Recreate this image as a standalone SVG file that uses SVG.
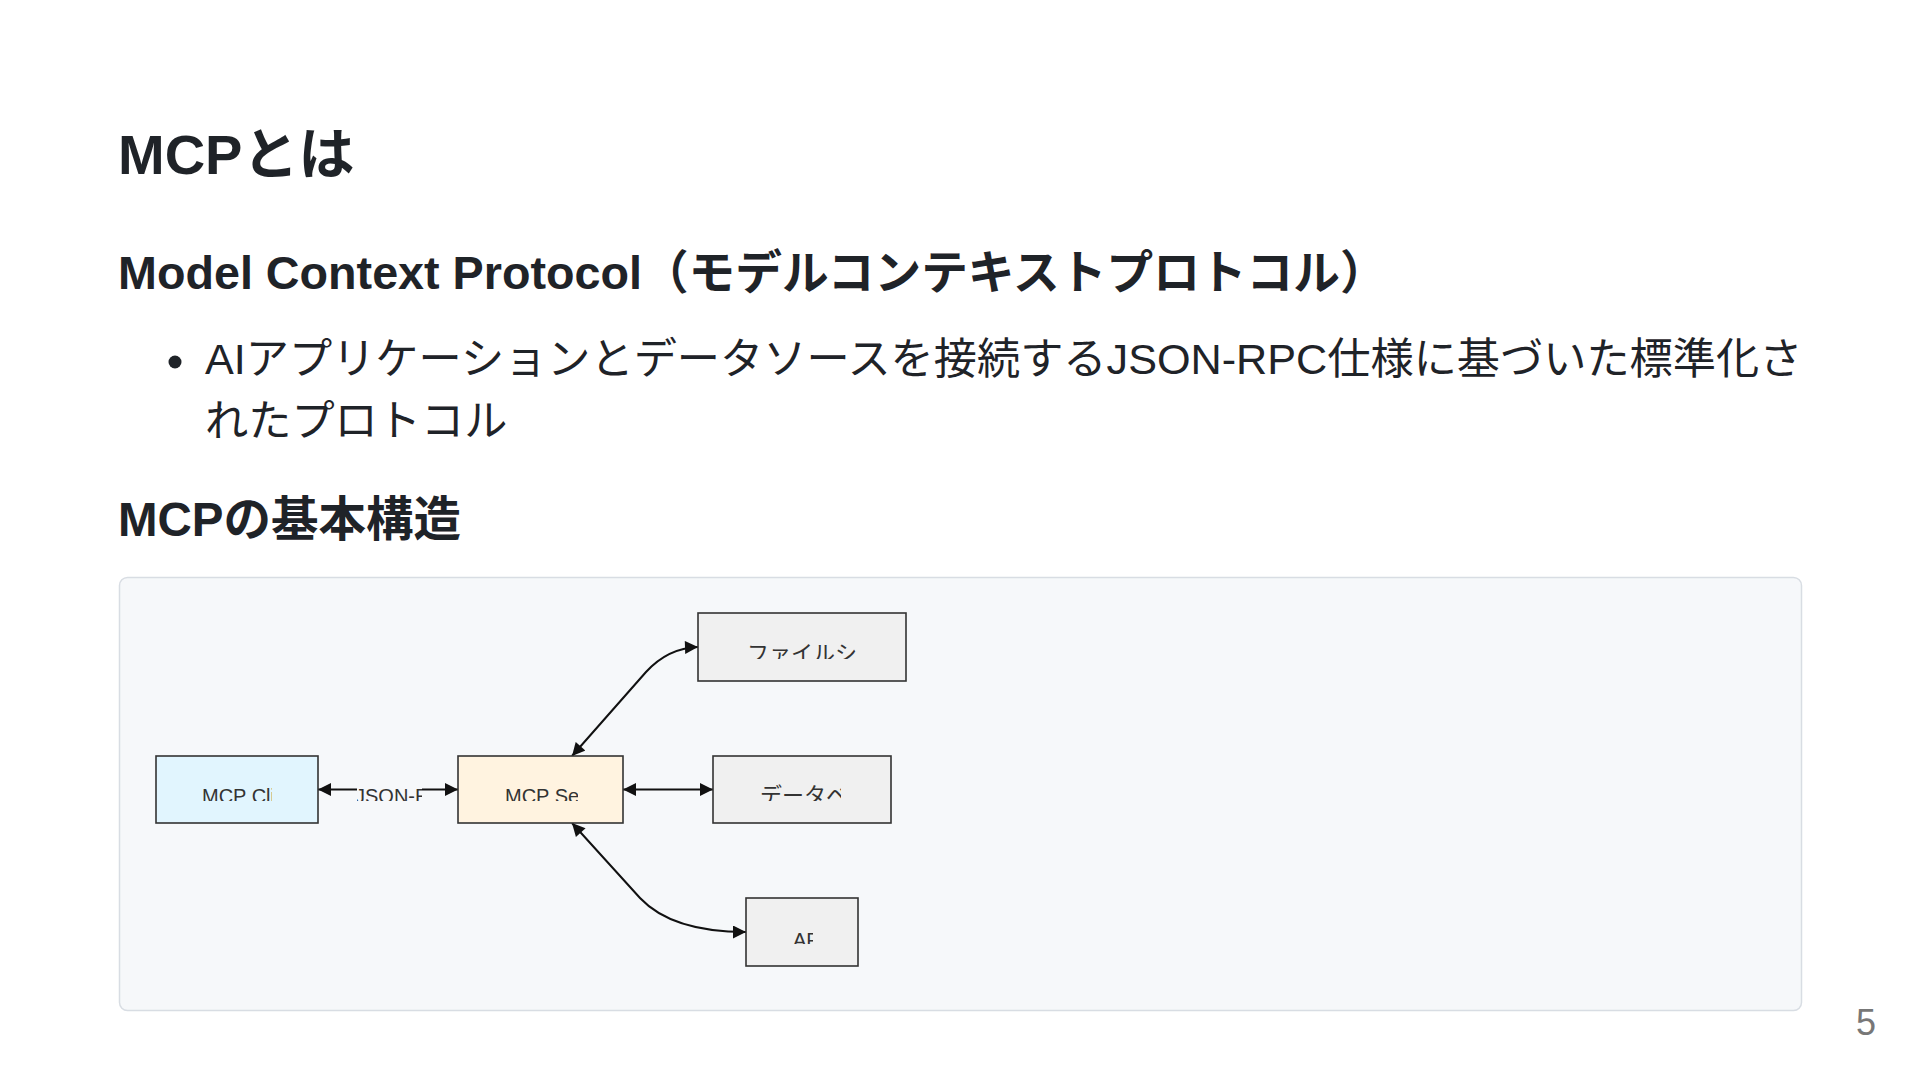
<svg xmlns="http://www.w3.org/2000/svg" width="1920" height="1080" viewBox="0 0 1920 1080">
<style>
.h{font-family:"Liberation Sans","Noto Sans CJK JP",sans-serif;font-weight:bold;fill:#1f2328}
.b{font-family:"Liberation Sans","Noto Sans CJK JP",sans-serif;fill:#1f2328}
.node rect.box{stroke:#333;stroke-width:1.6}
.lt{font-family:"Liberation Sans","Noto Sans CJK JP",sans-serif;font-size:20px;fill:#333}
.jt{font-family:"Noto Sans CJK JP","Liberation Sans",sans-serif;font-size:22px;fill:#333}
.edge{fill:none;stroke:#111;stroke-width:2}
</style>
<defs>
<marker id="arr" viewBox="0 0 10 10" refX="10" refY="5" markerWidth="14" markerHeight="13" markerUnits="userSpaceOnUse" orient="auto-start-reverse"><path d="M0,0 L10,5 L0,10 z" fill="#111"/></marker>
<clipPath id="cClient"><rect x="202" y="770" width="70" height="31"/></clipPath>
<clipPath id="cServer"><rect x="505" y="770" width="73" height="31"/></clipPath>
<clipPath id="cFs"><rect x="747" y="628" width="111" height="31"/></clipPath>
<clipPath id="cDb"><rect x="760" y="770" width="81" height="31"/></clipPath>
<clipPath id="cApi"><rect x="793" y="913" width="20" height="31"/></clipPath>
<clipPath id="cLbl"><rect x="357" y="770" width="65" height="31"/></clipPath>
</defs>
<rect width="1920" height="1080" fill="#ffffff"/>
<text class="h" x="118" y="174" font-size="56">MCPとは</text>
<text class="h" x="118" y="289" font-size="46.7">Model Context Protocol（モデルコンテキストプロトコル）</text>
<circle cx="175" cy="362" r="6.5" fill="#1f2328"/>
<text class="b" x="205" y="374" font-size="43.2">AIアプリケーションとデータソースを接続するJSON-RPC仕様に基づいた標準化さ</text>
<text class="b" x="205" y="436" font-size="43.2">れたプロトコル</text>
<text class="h" x="118" y="536" font-size="47.5">MCPの基本構造</text>
<rect x="119.5" y="577.5" width="1682" height="433" rx="8" fill="#f6f8fa" stroke="#d8dde3" stroke-width="1.5"/>
<g id="connectors">
<path class="edge" d="M318,789.5 L458,789.5" marker-start="url(#arr)" marker-end="url(#arr)"/>
<path class="edge" d="M623,789.5 L713,789.5" marker-start="url(#arr)" marker-end="url(#arr)"/>
<path class="edge" d="M572,756 L646,672 Q668,648 698,647" marker-start="url(#arr)" marker-end="url(#arr)"/>
<path class="edge" d="M572,823 L640,898 Q672,932 746,932" marker-start="url(#arr)" marker-end="url(#arr)"/>
<g id="edge-label">
<rect x="357" y="778" width="65" height="23" fill="#f6f8fa"/>
<text class="lt" x="355" y="803" clip-path="url(#cLbl)">JSON-RPC</text>
</g>
</g>
<g id="client" class="node">
<rect class="box" x="156" y="756" width="162" height="67" fill="#e1f5fe"/>
<text class="lt" x="202" y="803" clip-path="url(#cClient)">MCP Client</text>
</g>
<g id="server" class="node">
<rect class="box" x="458" y="756" width="165" height="67" fill="#fff3e0"/>
<text class="lt" x="505" y="803" clip-path="url(#cServer)">MCP Server</text>
</g>
<g id="filesystem" class="node">
<rect class="box" x="698" y="613" width="208" height="68" fill="#f0f0f0"/>
<text class="jt" x="747" y="661" clip-path="url(#cFs)">ファイルシステム</text>
</g>
<g id="database" class="node">
<rect class="box" x="713" y="756" width="178" height="67" fill="#f0f0f0"/>
<text class="jt" x="760" y="803" clip-path="url(#cDb)">データベース</text>
</g>
<g id="api" class="node">
<rect class="box" x="746" y="898" width="112" height="68" fill="#f0f0f0"/>
<text class="lt" x="793" y="947" clip-path="url(#cApi)">API</text>
</g>
<text x="1876" y="1035" font-family="Liberation Sans, sans-serif" font-size="36" fill="#777" text-anchor="end">5</text>
</svg>
